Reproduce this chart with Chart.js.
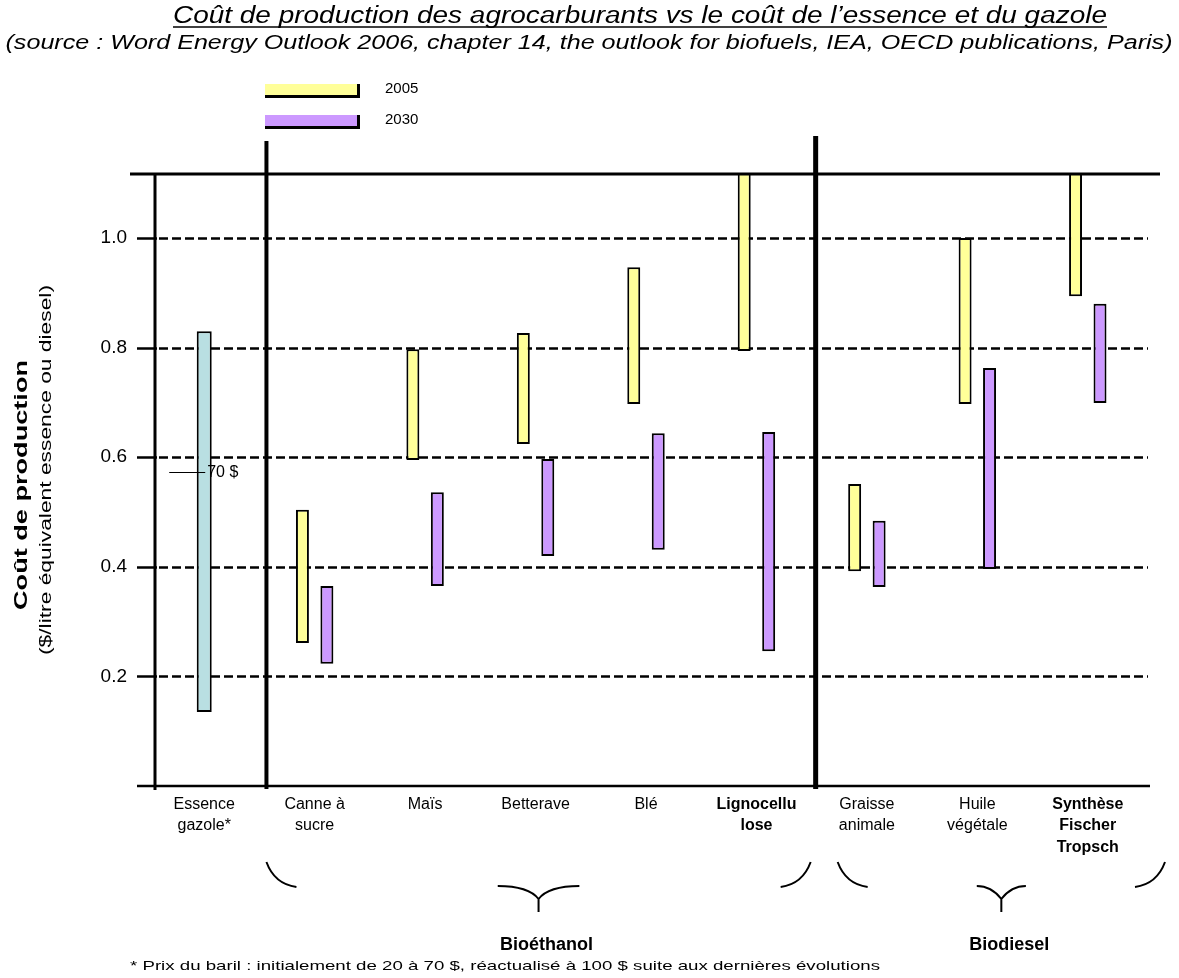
<!DOCTYPE html>
<html>
<head>
<meta charset="utf-8">
<script src="https://cdn.jsdelivr.net/npm/chart.js"></script>
<style>
  body { margin: 0; background: #fff; }
</style>
</head>
<body>
<canvas id="chart" width="1179" height="978"></canvas>
<script>
// categories along the x axis
const categories = [
  ["Essence", "gazole*"], ["Canne à", "sucre"], "Maïs", "Betterave", "Blé",
  ["Lignocellu", "lose"], ["Graisse", "animale"], ["Huile", "végétale"],
  ["Synthèse", "Fischer", "Tropsch"]
];
const boldCategories = [5, 8];

// cost ranges [low, high] in $/litre
const essenceRange = [[0.135, 0.83], null, null, null, null, null, null, null, null];
const cost2005 = [null, [0.261, 0.504], [0.595, 0.797], [0.624, 0.827], [0.697, 0.947],
                  [0.794, 1.25], [0.392, 0.551], [0.697, 1.0], [0.894, 1.25]];
const cost2030 = [null, [0.223, 0.365], [0.365, 0.536], [0.420, 0.597], [0.431, 0.644],
                  [0.246, 0.646], [0.363, 0.484], [0.396, 0.763], [0.699, 0.880]];
const barrel70 = 0.573;

const yTicks = [0.2, 0.4, 0.6, 0.8, 1.0];
const yMax = 1.117;

const groups = [
  { label: "Bioéthanol", from: 1, to: 5 },
  { label: "Biodiesel", from: 6, to: 8 }
];

const FONT = "'Liberation Sans', Arial, sans-serif";

// draw text stretched/squeezed to a target width
function fitText(ctx, text, x, y, font, width, align) {
  ctx.save();
  ctx.font = font;
  const w = ctx.measureText(text).width;
  ctx.translate(x, y);
  ctx.scale(width / w, 1);
  ctx.textAlign = align || "center";
  ctx.fillText(text, 0, 0);
  ctx.restore();
}

const decorations = {
  id: "decorations",
  beforeDatasetsDraw(chart) {
    const { ctx, chartArea: a, scales: { y } } = chart;
    ctx.save();
    ctx.strokeStyle = "#000";
    yTicks.forEach(v => {
      const py = Math.round(y.getPixelForValue(v)) + 0.5;
      ctx.lineWidth = 2.5;
      ctx.setLineDash([]);
      ctx.beginPath();
      ctx.moveTo(a.left - 12, py);
      ctx.lineTo(a.left + 8, py);
      ctx.stroke();
      ctx.setLineDash([9, 4]);
      ctx.beginPath();
      ctx.moveTo(a.left + 10, py);
      ctx.lineTo(a.right + 5, py);
      ctx.stroke();
    });
    ctx.restore();
  },
  afterDraw(chart) {
    const { ctx, chartArea: a, scales: { x, y } } = chart;
    ctx.save();
    ctx.strokeStyle = "#000";
    ctx.fillStyle = "#000";
    ctx.setLineDash([]);

    // frame
    ctx.lineWidth = 3;
    ctx.beginPath();
    ctx.moveTo(a.left - 19, a.top);
    ctx.lineTo(a.right + 17, a.top);
    ctx.stroke();
    ctx.lineWidth = 2.5;
    ctx.beginPath();
    ctx.moveTo(a.left - 12, a.bottom);
    ctx.lineTo(a.right + 7, a.bottom);
    ctx.stroke();
    ctx.lineWidth = 3;
    ctx.beginPath();
    ctx.moveTo(a.left + 6, a.top);
    ctx.lineTo(a.left + 6, a.bottom + 4);
    ctx.stroke();

    // group separators
    const sep1 = (x.getPixelForValue(0) + x.getPixelForValue(1)) / 2 + 7;
    const sep2 = (x.getPixelForValue(5) + x.getPixelForValue(6)) / 2 + 4;
    ctx.lineWidth = 4;
    ctx.beginPath();
    ctx.moveTo(sep1, a.top - 33);
    ctx.lineTo(sep1, a.bottom + 3);
    ctx.stroke();
    ctx.lineWidth = 5;
    ctx.beginPath();
    ctx.moveTo(sep2, a.top - 38);
    ctx.lineTo(sep2, a.bottom + 3);
    ctx.stroke();

    // 70 $ marker
    const ex = x.getPixelForValue(0) - 18;
    const my = Math.round(y.getPixelForValue(barrel70)) + 0.5;
    ctx.lineWidth = 1;
    ctx.beginPath();
    ctx.moveTo(ex - 17, my);
    ctx.lineTo(ex + 19, my);
    ctx.stroke();
    ctx.font = "16px " + FONT;
    ctx.textAlign = "left";
    ctx.textBaseline = "middle";
    ctx.fillText("70 $", ex + 21, my);

    // legend
    const ds = chart.data.datasets;
    [[ds[1], 84], [ds[2], 115]].forEach(([d, ly]) => {
      ctx.fillStyle = d.backgroundColor;
      ctx.fillRect(265, ly, 95, 11);
      ctx.fillStyle = "#000";
      ctx.fillRect(265, ly + 11, 95, 3);
      ctx.fillRect(357, ly, 3, 14);
      ctx.font = "15px " + FONT;
      ctx.textAlign = "left";
      ctx.textBaseline = "middle";
      ctx.fillText(d.label, 385, ly + 5);
    });

    // titles
    ctx.fillStyle = "#000";
    ctx.textBaseline = "alphabetic";
    fitText(ctx, "Coût de production des agrocarburants vs le coût de l\u2019essence et du gazole",
            640, 23, "italic 23px " + FONT, 934);
    ctx.lineWidth = 1.5;
    ctx.beginPath();
    ctx.moveTo(173, 27);
    ctx.lineTo(1107, 27);
    ctx.stroke();
    fitText(ctx, "(source : Word Energy Outlook 2006, chapter 14, the outlook for biofuels, IEA, OECD publications, Paris)",
            589, 49, "italic 20px " + FONT, 1167);

    // y axis title
    ctx.save();
    ctx.translate(27, 485);
    ctx.rotate(-Math.PI / 2);
    fitText(ctx, "Coût de production", 0, 0, "bold 18px " + FONT, 250);
    fitText(ctx, "($/litre équivalent essence ou diesel)", 15, 24, "16px " + FONT, 370);
    ctx.restore();

    // braces and group labels
    ctx.lineWidth = 2;
    groups.forEach((g, i) => {
      const left = i === 0 ? sep1 : sep2 + 22;
      const right = i === 0 ? sep2 - 5 : a.right + 22;
      const c = (left + right) / 2;
      const arm = (right - left) * 0.075;
      ctx.beginPath();
      ctx.moveTo(left, 862);
      ctx.quadraticCurveTo(left + 8, 884, left + 30, 887);
      ctx.moveTo(right - 30, 887);
      ctx.quadraticCurveTo(right - 8, 884, right, 862);
      ctx.moveTo(c - arm, 886);
      ctx.quadraticCurveTo(c - 10, 886, c, 899);
      ctx.quadraticCurveTo(c + 10, 886, c + arm, 886);
      ctx.moveTo(c, 899);
      ctx.lineTo(c, 912);
      ctx.stroke();
      ctx.font = "bold 18px " + FONT;
      ctx.textAlign = "center";
      ctx.textBaseline = "middle";
      ctx.fillText(g.label, c + 8, 945);
    });

    // footnote
    ctx.textBaseline = "middle";
    fitText(ctx, "* Prix du baril : initialement de 20 à 70 $, réactualisé à 100 $ suite aux dernières évolutions",
            130, 966, "13px " + FONT, 750, "left");
    ctx.restore();
  }
};

new Chart(document.getElementById("chart"), {
  type: "bar",
  data: {
    labels: categories,
    datasets: [
      { label: "Essence / gazole", data: essenceRange, backgroundColor: "#B9DFE2", maxBarThickness: 15 },
      { label: "2005", data: cost2005, backgroundColor: "#FFFF99" },
      { label: "2030", data: cost2030, backgroundColor: "#CC99FF" }
    ]
  },
  options: {
    responsive: false,
    animation: false,
    layout: { padding: { top: 174, bottom: 102, left: 0, right: 36 } },
    datasets: {
      bar: {
        skipNull: true,
        categoryPercentage: 0.443,
        barPercentage: 0.53,
        borderColor: "#000",
        borderWidth: 2,
        borderSkipped: false
      }
    },
    plugins: {
      legend: { display: false },
      tooltip: { enabled: false }
    },
    scales: {
      x: {
        grid: { display: false, drawTicks: false },
        border: { display: false },
        afterFit: s => { s.height = 90; },
        ticks: {
          color: "#000",
          padding: 8,
          maxRotation: 0,
          autoSkip: false,
          font: c => ({ family: FONT, size: 16, lineHeight: 1.33,
                        weight: boldCategories.includes(c.index) ? "bold" : "normal" })
        }
      },
      y: {
        min: 0,
        max: yMax,
        grid: { display: false, drawTicks: false },
        border: { display: false },
        afterFit: s => { s.width = 149; },
        afterBuildTicks: s => { s.ticks = yTicks.map(v => ({ value: v })); },
        ticks: {
          color: "#000",
          padding: 22,
          font: { family: FONT, size: 19 },
          callback: v => v.toFixed(1)
        }
      }
    }
  },
  plugins: [decorations]
});
</script>
</body>
</html>
